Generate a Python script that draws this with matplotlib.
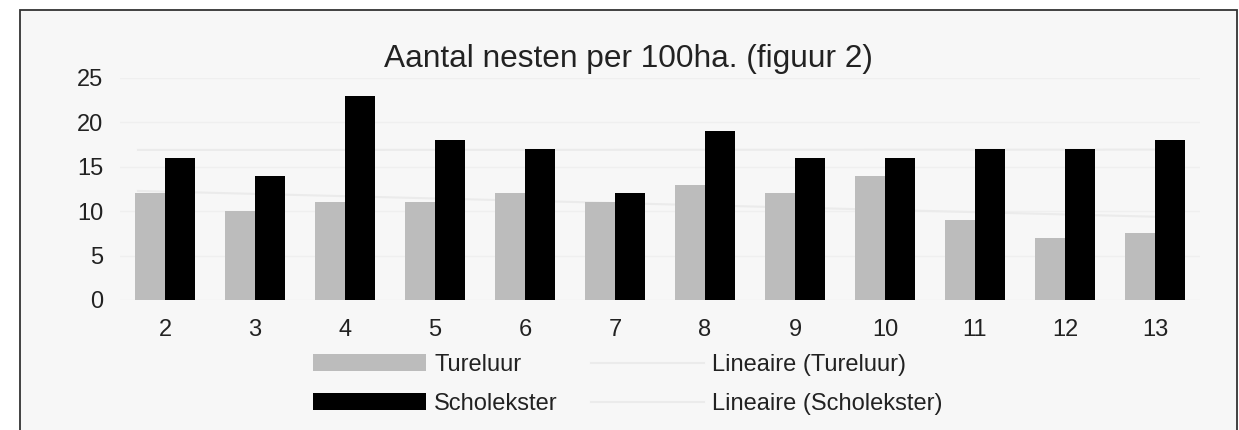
import numpy as np
import matplotlib
matplotlib.use("Agg")
import matplotlib.pyplot as plt
from matplotlib.patches import Rectangle
from matplotlib.lines import Line2D
from matplotlib.patches import Patch

plt.rcParams['font.family'] = ['Liberation Sans', 'DejaVu Sans']

title = "Aantal nesten per 100ha. (figuur 2)"
categories = ["2", "3", "4", "5", "6", "7", "8", "9", "10", "11", "12", "13"]
tureluur = [12, 10, 11, 11, 12, 11, 13, 12, 14, 9, 7, 7.5]
scholekster = [16, 14, 23, 18, 17, 12, 19, 16, 16, 17, 17, 18]
series_names = ["Tureluur", "Scholekster", "Lineaire (Tureluur)", "Lineaire (Scholekster)"]
yticks = [0, 5, 10, 15, 20, 25]

W, H = 1239, 430
fig = plt.figure(figsize=(W / 100, H / 100), dpi=100, facecolor='white')

# outer chart frame
frame = Rectangle((20 / W, -0.05), (1237 - 20) / W, (H - 10) / H + 0.05,
                  transform=fig.transFigure, facecolor='#f7f7f7',
                  edgecolor='#333333', linewidth=1.3, zorder=-5, clip_on=False)
fig.patches.append(frame)

ax = fig.add_axes([120 / W, 1 - 300 / H, (1200 - 120) / W, (300 - 78) / H])
ax.set_facecolor('none')
ax.set_zorder(2)

x = np.arange(len(categories))
bw = 0.333
ax.bar(x - bw / 2, tureluur, width=bw, color='#bcbcbc', zorder=2)
ax.bar(x + bw / 2, scholekster, width=bw, color='#000000', zorder=2)

# linear trend lines (very faint)
trend_color = '#ebebeb'
for vals in (tureluur, scholekster):
    k, b = np.polyfit(x, vals, 1)
    ax.plot([x[0] - 0.3, x[-1] + 0.3], [k * (x[0] - 0.3) + b, k * (x[-1] + 0.3) + b],
            color=trend_color, linewidth=1.5, zorder=1.5)

ax.set_xlim(-0.5, len(categories) - 0.5)
ax.set_ylim(0, 25)
ax.set_yticks(yticks)
ax.set_yticklabels([str(v) for v in yticks])
ax.set_xticks(x)
ax.set_xticklabels(categories)
ax.tick_params(axis='both', length=0, labelsize=17, labelcolor='#222222')
ax.tick_params(axis='x', pad=14)
ax.tick_params(axis='y', pad=12)
for s in ax.spines.values():
    s.set_visible(False)
ax.yaxis.grid(True, color='#efefef', linewidth=1, zorder=1)
ax.set_axisbelow(True)

fig.text(628 / W, 1 - 67 / H, title, ha='center', va='baseline',
         fontsize=22.8, color='#222222')

handles = [Patch(facecolor='#bcbcbc', edgecolor='none'),
           Patch(facecolor='#000000', edgecolor='none'),
           Line2D([], [], color=trend_color, linewidth=1.5),
           Line2D([], [], color=trend_color, linewidth=1.5)]
leg = fig.legend(handles, series_names, ncol=2, loc='upper left',
                 bbox_to_anchor=(313 / W, 1 - 354 / H), frameon=False,
                 fontsize=17, handlelength=4.8, handleheight=0.7,
                 handletextpad=0.34, columnspacing=1.4, labelspacing=0.72,
                 borderpad=0, borderaxespad=0)
for t in leg.get_texts():
    t.set_color('#222222')

fig.savefig('out.png', dpi=100, facecolor='white')
